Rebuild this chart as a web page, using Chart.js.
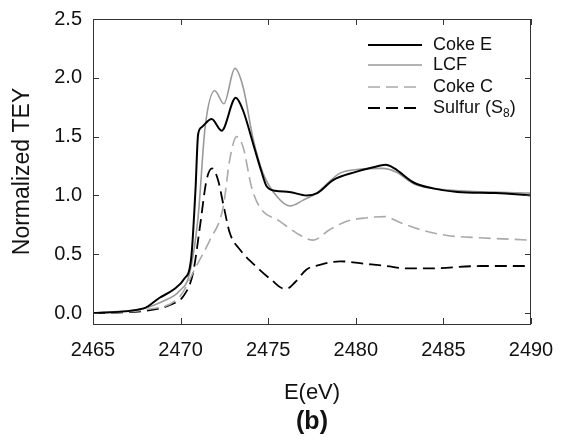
<!DOCTYPE html>
<html>
<head>
<meta charset="utf-8">
<script src="https://cdn.jsdelivr.net/npm/chart.js@4/dist/chart.umd.min.js"></script>
<style>
  html, body { margin: 0; padding: 0; background: #fff; }
  #wrap { width: 562px; height: 441px; }
</style>
</head>
<body>
<div id="wrap"><canvas id="chart" width="562" height="441"></canvas></div>
<script>
// values
const cokeE_x = [2465, 2467.9, 2468.8, 2469.6, 2470.2, 2470.6, 2470.85, 2471.0, 2471.2, 2471.77, 2472.34, 2473.15, 2473.57, 2474.14, 2474.6, 2474.9, 2475.4, 2476.2, 2477.2, 2477.8, 2478.7, 2480.0, 2481.0, 2481.7, 2482.2, 2483.3, 2484.4, 2485.8, 2488.0, 2490];
const cokeE_y = [0.0, 0.04, 0.13, 0.20, 0.29, 0.46, 1.05, 1.52, 1.58, 1.65, 1.55, 1.83, 1.72, 1.44, 1.21, 1.08, 1.04, 1.03, 1.00, 1.02, 1.13, 1.20, 1.24, 1.26, 1.23, 1.11, 1.06, 1.03, 1.02, 1.00];

const lcf_x = [2465, 2467.9, 2469.0, 2469.95, 2470.5, 2471.0, 2471.4, 2471.95, 2472.47, 2473.1, 2473.57, 2474.14, 2474.7, 2475.5, 2476.24, 2477.0, 2477.76, 2479.1, 2480.05, 2481.5, 2482.3, 2483.3, 2484.4, 2486.0, 2490];
const lcf_y = [0.0, 0.04, 0.10, 0.19, 0.33, 0.82, 1.58, 1.89, 1.78, 2.08, 1.92, 1.48, 1.19, 0.99, 0.91, 0.96, 1.02, 1.19, 1.22, 1.23, 1.20, 1.10, 1.06, 1.04, 1.02];

const cokeC_x = [2465, 2468.05, 2469.95, 2470.9, 2471.67, 2472.43, 2472.8, 2473.2, 2473.57, 2474.05, 2474.52, 2475.67, 2476.62, 2477.57, 2478.52, 2479.48, 2480.62, 2481.67, 2482.52, 2483.67, 2485.2, 2487.1, 2490];
const cokeC_y = [0.0, 0.03, 0.14, 0.40, 0.62, 0.90, 1.30, 1.50, 1.41, 1.07, 0.90, 0.78, 0.68, 0.62, 0.71, 0.78, 0.81, 0.82, 0.77, 0.71, 0.66, 0.64, 0.62];

const sulfur_x = [2465, 2468.05, 2469.57, 2470.14, 2470.71, 2471.1, 2471.48, 2471.8, 2472.14, 2472.43, 2472.81, 2473.38, 2474.5, 2475.2, 2475.86, 2476.1, 2476.52, 2477.19, 2477.95, 2479.1, 2480.43, 2481.76, 2482.9, 2484.24, 2487.1, 2490];
const sulfur_y = [0.0, 0.02, 0.08, 0.14, 0.34, 0.73, 1.13, 1.23, 1.13, 0.93, 0.68, 0.54, 0.37, 0.28, 0.21, 0.21, 0.26, 0.37, 0.41, 0.44, 0.42, 0.40, 0.38, 0.38, 0.40, 0.40];

const xTicks = [2465, 2470, 2475, 2480, 2485, 2490];
const yTicks = [0.0, 0.5, 1.0, 1.5, 2.0, 2.5];
const legendLabels = ['Coke E', 'LCF', 'Coke C', 'Sulfur (S', '8', ')'];

const FONT = "'Liberation Sans', Arial, Helvetica, sans-serif";

function pts(xs, ys) {
  return xs.map((x, i) => ({ x: x, y: ys[i] }));
}

// inward ticks on all four sides + legend + (b)
const decorPlugin = {
  id: 'decor',
  afterDraw(chart) {
    const ctx = chart.ctx;
    const a = chart.chartArea;
    const xs = chart.scales.x, ys = chart.scales.y;
    ctx.save();
    ctx.strokeStyle = '#333';
    ctx.lineWidth = 1;
    ctx.strokeRect(a.left + 0.5, a.top + 0.5, a.right - a.left - 1, a.bottom - a.top);
    ctx.beginPath();
    xTicks.forEach(v => {
      const px = Math.round(xs.getPixelForValue(v)) + 0.5;
      ctx.moveTo(px, a.bottom); ctx.lineTo(px, a.bottom - 6);
      ctx.moveTo(px, a.top); ctx.lineTo(px, a.top + 6);
    });
    yTicks.forEach(v => {
      const py = Math.round(ys.getPixelForValue(v)) + 0.5;
      ctx.moveTo(a.left, py); ctx.lineTo(a.left + 6, py);
      ctx.moveTo(a.right, py); ctx.lineTo(a.right - 6, py);
    });
    ctx.stroke();

    // legend
    const rows = [45, 65, 87, 108];
    const ds = chart.data.datasets;
    ctx.font = '18px ' + FONT;
    ctx.textBaseline = 'middle';
    ctx.fillStyle = '#111';
    for (let i = 0; i < 4; i++) {
      ctx.beginPath();
      ctx.strokeStyle = ds[i].borderColor;
      ctx.lineWidth = ds[i].borderWidth;
      ctx.setLineDash(ds[i].borderDash || []);
      ctx.moveTo(368, rows[i]); ctx.lineTo(422, rows[i]);
      ctx.stroke();
    }
    ctx.setLineDash([]);
    ctx.fillText(legendLabels[0], 433, rows[0]);
    ctx.fillText(legendLabels[1], 433, rows[1]);
    ctx.fillText(legendLabels[2], 433, rows[2]);
    ctx.fillText(legendLabels[3], 433, rows[3]);
    let w = ctx.measureText(legendLabels[3]).width;
    ctx.font = '12px ' + FONT;
    ctx.fillText(legendLabels[4], 433 + w, rows[3] + 6);
    const w2 = ctx.measureText(legendLabels[4]).width;
    ctx.font = '18px ' + FONT;
    ctx.fillText(legendLabels[5], 433 + w + w2, rows[3]);

    ctx.font = 'bold 25px ' + FONT;
    ctx.textAlign = 'center';
    ctx.fillText('(b)', (a.left + a.right) / 2, 422);
    ctx.restore();
  }
};

const ctx = document.getElementById('chart').getContext('2d');

const config = {
  type: 'line',
  data: {
    datasets: [
      { label: 'Coke E', data: pts(cokeE_x, cokeE_y), borderColor: '#000', borderWidth: 2 },
      { label: 'LCF', data: pts(lcf_x, lcf_y), borderColor: '#999', borderWidth: 1.6 },
      { label: 'Coke C', data: pts(cokeC_x, cokeC_y), borderColor: '#aaa', borderWidth: 1.6, borderDash: [12, 6] },
      { label: 'Sulfur (S8)', data: pts(sulfur_x, sulfur_y), borderColor: '#000', borderWidth: 1.8, borderDash: [12, 6] },
    ],
  },
  options: {
    responsive: false,
    animation: false,
    devicePixelRatio: 1,
    elements: {
      point: { radius: 0 },
      line: { cubicInterpolationMode: 'monotone', fill: false },
    },
    layout: { padding: { left: 0, top: 19, right: 31, bottom: 0 } },
    plugins: {
      legend: { display: false },
      tooltip: { enabled: false },
    },
    scales: {
      x: {
        type: 'linear',
        min: 2465,
        max: 2490,
        afterBuildTicks: (s) => { s.ticks = xTicks.map(v => ({ value: v })); },
        afterFit: (s) => { s.height = 117; s.paddingLeft = 0; s.paddingRight = 0; },
        grid: { display: false, drawTicks: false },
        border: { display: false },
        ticks: { padding: 14, color: '#111', font: { family: FONT, size: 20 }, maxRotation: 0, callback: (v) => String(v) },
        title: {
          display: true, text: 'E(eV)', color: '#111',
          font: { family: FONT, size: 22 }, padding: { top: 0, bottom: 35 },
        },
      },
      y: {
        min: -0.093,
        max: 2.5,
        afterBuildTicks: (s) => { s.ticks = yTicks.map(v => ({ value: v })); },
        afterFit: (s) => { s.width = 93; s.paddingTop = 0; s.paddingBottom = 0; },
        grid: { display: false, drawTicks: false },
        border: { display: false },
        ticks: { padding: 11, color: '#111', font: { family: FONT, size: 20 }, callback: (v) => v.toFixed(1) },
        title: {
          display: true, text: 'Normalized TEY', color: '#111',
          font: { family: FONT, size: 23 }, padding: { top: 9, bottom: 0 },
        },
      },
    },
  },
  plugins: [decorPlugin],
};

const myChart = new Chart(ctx, config);
</script>
</body>
</html>
